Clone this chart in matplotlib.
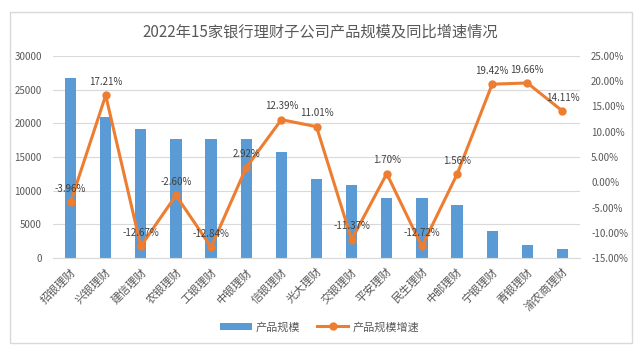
import numpy as np
import matplotlib.pyplot as plt
from matplotlib.patches import Rectangle
from matplotlib.ticker import FuncFormatter

plt.rcParams['font.family'] = ['Noto Sans CJK SC', 'DejaVu Sans']

# data
companies = ['招银理财', '兴银理财', '建信理财', '农银理财', '工银理财', '中银理财', '信银理财',
             '光大理财', '交银理财', '平安理财', '民生理财', '中邮理财', '宁银理财', '青银理财', '渝农商理财']
scale = [26700, 20900, 19100, 17700, 17600, 17600, 15700, 11800, 10800, 8850, 8850, 7850, 3950, 2000, 1350]
growth = [-3.96, 17.21, -12.67, -2.60, -12.84, 2.92, 12.39, 11.01, -11.37, 1.70, -12.72, 1.56, 19.42, 19.66, 14.11]

bar_color = '#5B9BD5'
line_color = '#ED7D31'
text_color = '#595959'

fig = plt.figure(figsize=(6.4, 3.53), dpi=100)
# chart border
fig.patches.append(Rectangle((10 / 640, 10 / 353), 622 / 640, 331 / 353, transform=fig.transFigure,
                             fill=False, edgecolor='#D9D9D9', linewidth=1))

ax = fig.add_axes([53 / 640, 1 - 258 / 353, 527 / 640, 202 / 353])
x = np.arange(len(companies))
bars = ax.bar(x, scale, width=0.32, color=bar_color, label='产品规模', zorder=2)
ax.set_ylim(0, 30000)
ax.set_yticks(np.arange(0, 30001, 5000))
ax.set_xlim(-0.5, len(companies) - 0.5)
ax.grid(axis='y', color='#D9D9D9', linewidth=0.8, zorder=0)
for s in ['top', 'right', 'left']:
    ax.spines[s].set_visible(False)
ax.spines['bottom'].set_color('#D9D9D9')
ax.tick_params(axis='y', length=0, labelsize=7, colors=text_color, pad=8)
ax.set_xticks(x)
ax.set_xticklabels(companies, rotation=45, ha='right', rotation_mode='anchor')
ax.tick_params(axis='x', length=0, labelsize=8, colors=text_color, pad=6)

ax2 = ax.twinx()
line, = ax2.plot(x, growth, color=line_color, linewidth=2.2, marker='o', markersize=5,
                 label='产品规模增速', zorder=3)
ax2.set_ylim(-15, 25)
ax2.set_yticks(np.arange(-15, 26, 5))
ax2.yaxis.set_major_formatter(FuncFormatter(lambda v, p: f'{v:.2f}%'))
for s in ['top', 'right', 'left', 'bottom']:
    ax2.spines[s].set_visible(False)
ax2.tick_params(axis='y', length=0, labelsize=7, colors=text_color, pad=8)

for xi, g in zip(x, growth):
    ax2.annotate(f'{g:.2f}%', (xi, g), xytext=(0, 6), textcoords='offset points',
                 ha='center', va='bottom', fontsize=7, color='#404040')

fig.text(0.5, 1 - 32 / 353, '2022年15家银行理财子公司产品规模及同比增速情况', ha='center', va='center',
         fontsize=11, color=text_color)

fig.legend(handles=[bars, line], loc='center', bbox_to_anchor=(0.5, 1 - 327 / 353), ncol=2,
           frameon=False, fontsize=8, labelcolor=text_color, handlelength=2.8, columnspacing=1.5,
           handletextpad=0.4)

fig.savefig('out.png', dpi=100)
